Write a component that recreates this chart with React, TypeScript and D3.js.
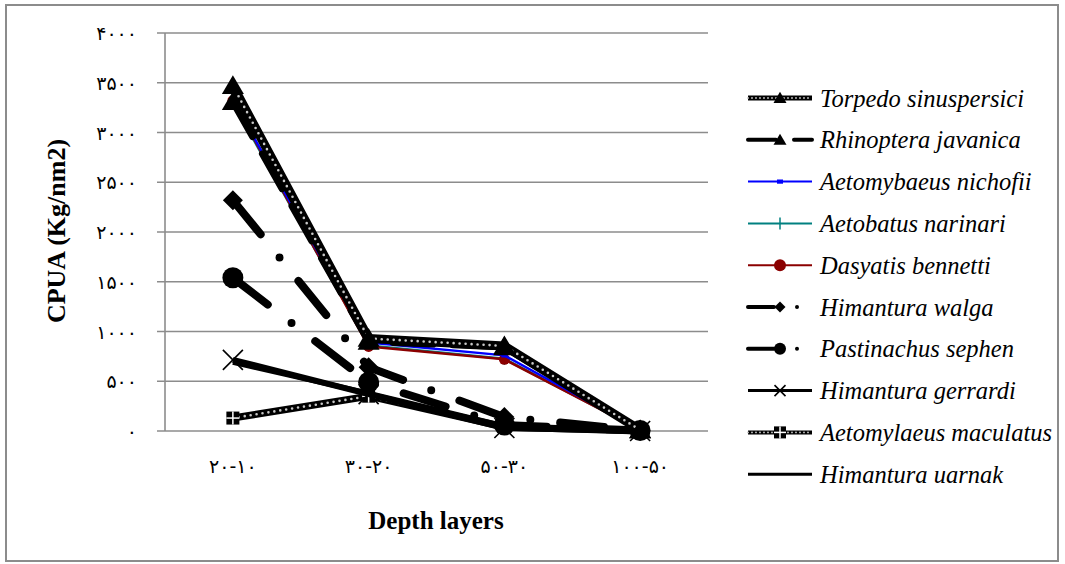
import React from 'react';
import * as d3 from 'd3';

// ---------- data ----------
const categories = ['۲۰-۱۰', '۳۰-۲۰', '۵۰-۳۰', '۱۰۰-۵۰'];
const yTicks = [0, 500, 1000, 1500, 2000, 2500, 3000, 3500, 4000];

const seriesNames = [
  'Torpedo sinuspersici',
  'Rhinoptera javanica',
  'Aetomybaeus nichofii',
  'Aetobatus narinari',
  'Dasyatis bennetti',
  'Himantura walga',
  'Pastinachus sephen',
  'Himantura gerrardi',
  'Aetomylaeus maculatus',
  'Himantura uarnak',
];

const torpedo = [3470, 930, 855, 10];
const rhinoptera = [3310, 900, 845, 10];
const aetomybaeus = [3330, 890, 760, 10];
const aetobatus = [3300, 860, 725, 10];
const dasyatis = [3320, 850, 720, 10];
const walga = [2320, 640, 140, 5];
const pastinachus = [1540, 490, 60, 5];
const gerrardi = [715, 370, 30, 0];
const maculatus = [130, 350, 40, 0];
const uarnak = [690, 380, 50, 0];

const seriesValues = [torpedo, rhinoptera, aetomybaeus, aetobatus, dasyatis, walga, pastinachus, gerrardi, maculatus, uarnak];

// ---------- styles ----------
type Style = {
  color: string; width: number; lw: number; dash?: string; ldash?: string;
  dotted?: boolean; marker: string; ms: number; lms: number;
};
const styles: Style[] = [
  { color: '#000', width: 9, lw: 5, dotted: true, marker: 'triangle', ms: 22, lms: 13 },
  { color: '#000', width: 7, lw: 4, dash: '40 20', ldash: '28 18', marker: 'triangle', ms: 22, lms: 13 },
  { color: '#0000ff', width: 2.5, lw: 2, marker: 'square', ms: 6, lms: 6 },
  { color: '#008080', width: 2.5, lw: 2, marker: 'plus', ms: 12, lms: 12 },
  { color: '#8b0000', width: 2.5, lw: 2, marker: 'circle', ms: 11, lms: 12 },
  { color: '#000', width: 8, lw: 4, dash: '44 30 0 30', ldash: '26 23 0 100', marker: 'diamond', ms: 20, lms: 11 },
  { color: '#000', width: 8, lw: 4, dash: '44 30 0 30', ldash: '26 23 0 100', marker: 'circle', ms: 21, lms: 12 },
  { color: '#000', width: 6, lw: 3, marker: 'x', ms: 20, lms: 11 },
  { color: '#000', width: 7, lw: 4, dotted: true, marker: 'sqcross', ms: 13, lms: 12 },
  { color: '#000', width: 5, lw: 3, marker: 'none', ms: 0, lms: 0 },
];

const drawOrder = [3, 4, 2, 9, 8, 7, 6, 5, 1, 0];

const toPersian = (s: string) => s.replace(/\d/g, (d) => '۰۱۲۳۴۵۶۷۸۹'[+d]);

function Marker({ type, cx, cy, size, color }: { type: string; cx: number; cy: number; size: number; color: string }) {
  const s = size / 2;
  switch (type) {
    case 'triangle':
      return <path d={`M${cx},${cy - s * 0.95} L${cx + s},${cy + s * 0.75} L${cx - s},${cy + s * 0.75} Z`} fill={color} />;
    case 'diamond':
      return <path d={`M${cx},${cy - s} L${cx + s},${cy} L${cx},${cy + s} L${cx - s},${cy} Z`} fill={color} />;
    case 'circle':
      return <circle cx={cx} cy={cy} r={s} fill={color} />;
    case 'square':
      return <rect x={cx - s} y={cy - s * 0.7} width={size} height={size * 0.7} fill={color} />;
    case 'plus':
      return (
        <g stroke={color} strokeWidth={1.5}>
          <line x1={cx} y1={cy - s} x2={cx} y2={cy + s} />
        </g>
      );
    case 'x':
      return (
        <g stroke={color} strokeWidth={1.6}>
          <line x1={cx - s} y1={cy - s} x2={cx + s} y2={cy + s} />
          <line x1={cx - s} y1={cy + s} x2={cx + s} y2={cy - s} />
        </g>
      );
    case 'sqcross':
      return (
        <g>
          <rect x={cx - s} y={cy - s} width={size} height={size} fill={color} />
          <line x1={cx} y1={cy - s} x2={cx} y2={cy + s} stroke="#fff" strokeWidth={1.5} />
          <line x1={cx - s} y1={cy} x2={cx + s} y2={cy} stroke="#fff" strokeWidth={1.5} />
        </g>
      );
    default:
      return null;
  }
}

function StyledPath({ d, st, legend }: { d: string; st: Style; legend: boolean }) {
  const w = legend ? st.lw : st.width;
  const dash = legend ? st.ldash : st.dash;
  return (
    <g>
      <path d={d} fill="none" stroke={st.color} strokeWidth={w}
        strokeDasharray={dash} strokeLinecap={dash ? 'round' : 'butt'} strokeLinejoin="round" />
      {st.dotted && (
        <path d={d} fill="none" stroke="#c8c8c8" strokeWidth={legend ? 1.8 : 2.6}
          strokeDasharray={legend ? '0 4' : '0 6'} strokeLinecap="round" />
      )}
    </g>
  );
}

export default function App() {
  const W = 1065, H = 564;
  const x = d3.scaleBand<string>().domain(categories).range([165, 708]);
  const cx = (c: string) => (x(c) as number) + x.bandwidth() / 2;
  const y = d3.scaleLinear().domain([0, 4000]).range([431, 33]);
  const line = d3.line<number>().x((_, i) => cx(categories[i])).y((v) => y(v));

  const legendX0 = 748, legendX1 = 812, legendY0 = 98, legendStep = 41.8;

  return (
    <div style={{ position: 'absolute', left: 0, top: 0 }}>
      <svg width={W} height={H} style={{ display: 'block', background: '#fff' }}>
        <rect x={6} y={5} width={1052} height={556} fill="#fff" stroke="#8c8c8c" strokeWidth={2} />

        {/* grid */}
        {yTicks.map((t) => (
          <g key={t}>
            <line x1={157} x2={708} y1={y(t)} y2={y(t)} stroke="#8c8c8c" strokeWidth={1.6} />
            <text x={137} y={y(t)} textAnchor="end" dominantBaseline="central"
              fontFamily="'DejaVu Sans', sans-serif" fontSize={19} letterSpacing={1.5} fill="#000">
              {toPersian(String(t))}
            </text>
          </g>
        ))}
        <line x1={165} x2={165} y1={y(4000)} y2={y(0)} stroke="#8c8c8c" strokeWidth={1.6} />

        {categories.map((c) => (
          <text key={c} x={cx(c)} y={466} textAnchor="middle" dominantBaseline="central" direction="ltr"
            fontFamily="'DejaVu Sans', sans-serif" fontSize={19} letterSpacing={1.5} fill="#000">
            {c}
          </text>
        ))}

        <text x={436} y={529} textAnchor="middle" fontFamily="'Liberation Serif', serif" fontWeight="bold" fontSize={25}>
          Depth layers
        </text>
        <text transform="translate(65,231) rotate(-90)" textAnchor="middle" fontFamily="'Liberation Serif', serif"
          fontWeight="bold" fontSize={26}>
          CPUA (Kg/nm2)
        </text>

        {/* series */}
        {drawOrder.map((si) => {
          const st = styles[si];
          const vals = seriesValues[si];
          return (
            <g key={si}>
              <StyledPath d={line(vals) as string} st={st} legend={false} />
              {vals.map((v, i) => (
                <Marker key={i} type={st.marker} cx={cx(categories[i])} cy={y(v)} size={st.ms} color={st.color} />
              ))}
            </g>
          );
        })}

        {/* legend */}
        {seriesNames.map((name, i) => {
          const st = styles[i];
          const ly = legendY0 + i * legendStep;
          return (
            <g key={name}>
              <StyledPath d={`M${legendX0},${ly} L${legendX1},${ly}`} st={st} legend={true} />
              <Marker type={st.marker} cx={(legendX0 + legendX1) / 2} cy={ly} size={st.lms} color={st.color} />
              <text x={820} y={ly} dominantBaseline="central" fontFamily="'Liberation Serif', serif"
                fontStyle="italic" fontSize={24.5} fill="#000">
                {name}
              </text>
            </g>
          );
        })}
      </svg>
    </div>
  );
}
